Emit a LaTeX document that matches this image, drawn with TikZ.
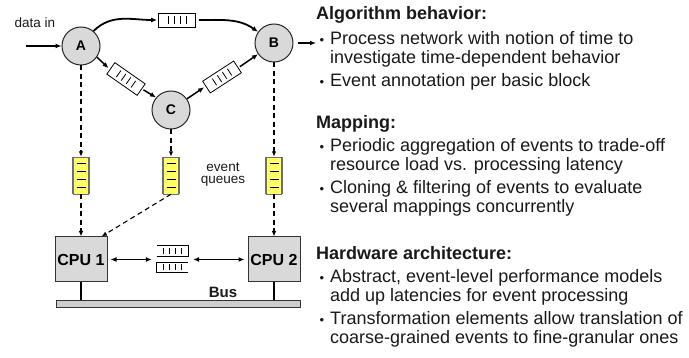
\documentclass[tikz,border=0pt]{standalone}
\usepackage{fontspec}
\setmainfont{Liberation Sans}
\usetikzlibrary{arrows.meta}
\definecolor{nodegray}{RGB}{217,217,217}
\definecolor{busgray}{RGB}{205,205,205}
\definecolor{qyellow}{RGB}{255,255,102}
\definecolor{qborder}{RGB}{110,110,110}
\definecolor{txt}{RGB}{25,25,25}
\tikzset{
  proc/.style={circle, draw=black!85, line width=1pt, fill=nodegray, minimum size=38pt, inner sep=0pt, font=\fontsize{14}{14}\selectfont\bfseries},
  cpubox/.style={rectangle, draw=black!80, line width=1pt, fill=nodegray, minimum width=52pt, minimum height=45pt, inner sep=0pt, font=\fontsize{16}{16}\selectfont\bfseries},
  fifo/.style={rectangle, draw=black, line width=0.8pt, fill=white, minimum width=37pt, minimum height=14pt, inner sep=0pt,
    path picture={\foreach \i in {-1.5,-0.5,0.5,1.5}{\draw[line width=0.8pt] ([xshift=\i*6pt]path picture bounding box.center) ++(0,-4pt) -- ++(0,8pt);}}},
  evq/.style={rectangle, fill=qyellow, minimum width=16pt, minimum height=37pt, inner sep=0pt,
    path picture={\foreach \i in {-1.5,-0.5,0.5,1.5}{\draw[line width=1.1pt] ([yshift=\i*8pt]path picture bounding box.center) ++(-4.5pt,0) -- ++(9pt,0);}}},
  flow/.style={line width=1.5pt, -{Latex[length=6pt,width=5pt]}},
  dflow/.style={line width=1.1pt, dash pattern=on 5pt off 3.5pt, -{Latex[length=5.5pt,width=4.5pt]}},
  biflow/.style={line width=1.5pt, {Latex[length=6pt,width=5pt]}-{Latex[length=6pt,width=5pt]}},
  head/.style={anchor=base west, font=\fontsize{18}{18}\selectfont\bfseries, text=txt, inner sep=0pt},
  item/.style={anchor=base west, font=\fontsize{18}{18}\selectfont, text=txt, inner sep=0pt},
  bul/.style={anchor=base, font=\fontsize{13}{13}\selectfont, text=txt, inner sep=0pt},
  lbl/.style={font=\fontsize{13.5}{13.5}\selectfont, text=txt, inner sep=0pt}
}
\begin{document}
\begin{tikzpicture}[x=1pt,y=-1pt]
\useasboundingbox (0,0) rectangle (689,358);

% process network
\node[proc] (A) at (81,46) {A};
\node[proc] (B) at (274,43) {B};
\node[proc] (C) at (171,110) {C};
\node[lbl] (din) at (35,23) {data in};
\coordinate (inA) at (26,46);
\coordinate (outB) at (316,43);
\draw[flow] (inA) -- (A);
\draw[flow] ([xshift=4pt]B.east) -- (outB);

\node[fifo] (q0) at (177,20) {};
\node[fifo, rotate=-35] (q1) at (126,79) {};
\node[fifo, rotate=33] (q2) at (222,77) {};

\draw[flow, line width=1.8pt] (A.50) to[out=45,in=180] ([xshift=-1pt]q0.west);
\draw[flow, line width=1.8pt] ([xshift=3pt]q0.east) to[out=0,in=145] (B.145);
\draw[flow] (A.-35) -- ([xshift=-2pt]q1.west);
\draw[flow] ([xshift=2pt]q1.east) -- (C.140);
\draw[flow] (C.35) -- ([xshift=-2pt]q2.west);
\draw[flow] ([xshift=2pt]q2.east) -- (B.-145);

% event queues
\node[evq] (e1) at (81,175.5) {};
\node[evq] (e2) at (171,175.5) {};
\node[evq] (e3) at (274,175.5) {};
\foreach \e in {e1,e2,e3}{
  \draw[qborder, line width=1.5pt] (\e.north west) -- (\e.south west);
  \draw[qborder, line width=1.5pt] (\e.north east) -- (\e.south east);
  \draw[qborder, line width=0.5pt] (\e.north west) -- (\e.north east);
  \draw[qborder, line width=0.5pt] (\e.south west) -- (\e.south east);
}
\node[lbl, align=center] (evlbl) at (223,175) {event\\[-1.5pt]queues};

% CPUs and bus
\node[cpubox] (cpu1) at (81,259.5) {CPU 1};
\node[cpubox] (cpu2) at (274,259.5) {CPU 2};
\node[rectangle, draw=black!80, line width=1pt, fill=busgray, minimum width=244pt, minimum height=7pt, inner sep=0pt] (bus) at (178,304.5) {};
\node[font=\fontsize{15}{15}\selectfont\bfseries, text=txt, inner sep=0pt] (buslbl) at (223,292) {Bus};
\draw[line width=1.5pt] (cpu1.south) -- (cpu1.south |- bus.north);
\draw[line width=1.5pt] (cpu2.south) -- (cpu2.south |- bus.north);

% dashed mapping arrows
\draw[dflow] (A.south) -- (e1.north);
\draw[dflow] (e1.south) -- (cpu1.north);
\draw[dflow] (C.south) -- (e2.north);
\draw[dflow] (e2.south) -- ([xshift=-6pt]cpu1.north east);
\draw[dflow] (B.south) -- (e3.north);
\draw[dflow] (e3.south) -- (cpu2.north);

% inter-CPU channel
\node[rectangle, minimum width=31pt, minimum height=10pt, inner sep=0pt,
  path picture={\foreach \i in {-1.5,-0.5,0.5,1.5}{\draw[line width=0.8pt] ([xshift=\i*6pt]path picture bounding box.center) ++(0,-3pt) -- ++(0,6pt);}}] (m1) at (172.5,251) {};
\node[rectangle, minimum width=31pt, minimum height=10pt, inner sep=0pt,
  path picture={\foreach \i in {-1.5,-0.5,0.5,1.5}{\draw[line width=0.8pt] ([xshift=\i*6pt]path picture bounding box.center) ++(0,-3pt) -- ++(0,6pt);}}] (m2) at (172.5,267.5) {};
\draw[line width=0.9pt] (m1.north west) -- (m1.north east) -- (m1.south east) -- (m1.south west);
\draw[line width=0.9pt] (m2.north east) -- (m2.north west) -- (m2.south west) -- (m2.south east);
\draw[biflow] ([xshift=3pt]cpu1.east) -- ([xshift=-5pt]m1.west |- cpu1.east);
\draw[biflow] ([xshift=5pt]m1.east |- cpu2.west) -- ([xshift=-3pt]cpu2.west);

% text
\node[head] (h1) at (316,20) {Algorithm behavior:};
\node[bul] (b1) at (322,45) {•};
\node[item] (t1) at (330,45) {Process network with notion of time to};
\node[item] (t1b) at (330,64) {investigate time-dependent behavior};
\node[bul] (b2) at (322,87) {•};
\node[item] (t2) at (330,87) {Event annotation per basic block};

\node[head] (h2) at (316,129) {Mapping:};
\node[bul] (b3) at (322,152) {•};
\node[item] (t3) at (330,152) {Periodic aggregation of events to trade-off};
\node[item] (t3b) at (330,171) {resource load vs. processing latency};
\node[bul] (b4) at (322,194) {•};
\node[item] (t4) at (330,194) {Cloning \& filtering of events to evaluate};
\node[item] (t4b) at (330,213) {several mappings concurrently};

\node[head] (h3) at (316,260) {Hardware architecture:};
\node[bul] (b5) at (322,283) {•};
\node[item] (t5) at (330,283) {Abstract, event-level performance models};
\node[item] (t5b) at (330,302) {add up latencies for event processing};
\node[bul] (b6) at (322,325) {•};
\node[item] (t6) at (330,325) {Transformation elements allow translation of};
\node[item] (t6b) at (330,344) {coarse-grained events to fine-granular ones};
\end{tikzpicture}
\end{document}
